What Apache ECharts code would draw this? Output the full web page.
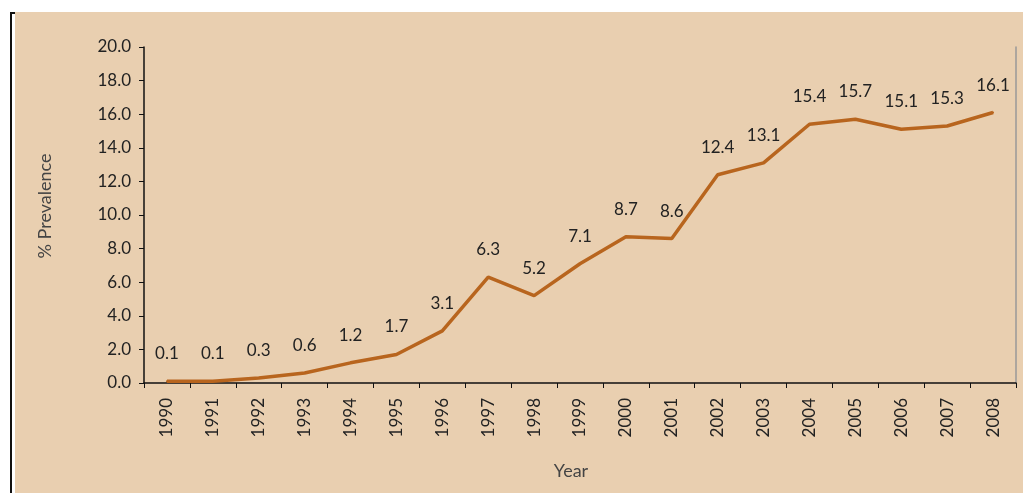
<!DOCTYPE html>
<html>
<head>
<meta charset="utf-8">
<script src="https://cdn.jsdelivr.net/npm/echarts@6/dist/echarts.min.js"></script>
<style>
html,body{margin:0;padding:0;background:#fff;}
#wrap{position:absolute;left:0;top:0;width:1023px;height:493px;}
#bg{position:absolute;left:15px;top:12px;width:1008px;height:481px;background:#e9cfb0;}
#bar{position:absolute;left:10px;top:12px;width:2px;height:481px;background:#111;}
#barTop{position:absolute;left:10px;top:12px;width:5px;height:2px;background:#111;}
#chart{position:absolute;left:0;top:0;width:1023px;height:493px;}
</style>
</head>
<body>
<div id="wrap"><div id="bg"></div><div id="bar"></div><div id="barTop"></div><div id="chart"></div></div>
<script>
const years = ['1990','1991','1992','1993','1994','1995','1996','1997','1998','1999','2000','2001','2002','2003','2004','2005','2006','2007','2008'];
const prevalence = [0.1,0.1,0.3,0.6,1.2,1.7,3.1,6.3,5.2,7.1,8.7,8.6,12.4,13.1,15.4,15.7,15.1,15.3,16.1];
const yMin = 0, yMax = 20, yStep = 2;

const chart = echarts.init(document.getElementById('chart'), null, {renderer:'canvas'});
const font = 'Lato, "DejaVu Sans", sans-serif';
chart.setOption({
  backgroundColor: 'transparent',
  animation: false,
  grid: {left:144, right:7, top:47, bottom:110, containLabel:false},
  xAxis: {
    type:'category', data: years, boundaryGap:true,
    name:'Year', nameLocation:'middle', nameGap:79,
    nameTextStyle:{fontFamily:font, fontSize:18, color:'#444', padding:[0,18,0,0]},
    axisLine:{lineStyle:{color:'#111', width:1.5}},
    axisTick:{show:true, length:5, lineStyle:{color:'#111'}, alignWithLabel:false},
    axisLabel:{rotate:90, margin:15, fontFamily:font, fontSize:17, color:'#222'}
  },
  yAxis: [{
    type:'value', min:yMin, max:yMax, interval:yStep,
    name:'% Prevalence', nameLocation:'middle', nameGap:90, nameRotate:90,
    nameTextStyle:{fontFamily:font, fontSize:18, color:'#444', padding:[0,0,0,18]},
    axisLine:{show:true, lineStyle:{color:'#111', width:1.5}},
    axisTick:{show:true, length:5, lineStyle:{color:'#111'}},
    splitLine:{show:false},
    axisLabel:{margin:13, fontFamily:font, fontSize:17, color:'#222', formatter:v=>v.toFixed(1)}
  },{
    type:'value', min:yMin, max:yMax, interval:yStep, position:'right',
    axisLine:{show:true, lineStyle:{color:'#999', width:1.5}},
    axisTick:{show:false}, axisLabel:{show:false}, splitLine:{show:false}
  }],
  series: [{
    type:'line', data: prevalence, symbol:'circle', symbolSize:2, showSymbol:true, showAllSymbol:true,
    itemStyle:{color:'#b8651e'},
    lineStyle:{color:'#b8651e', width:3.5},
    label:{show:true, position:'top', distance:18, fontFamily:font, fontSize:17, color:'#222',
      formatter:function(p){return Number(p.value).toFixed(1);}},
    labelLayout:{hideOverlap:false}
  }]
});
</script>
</body>
</html>
